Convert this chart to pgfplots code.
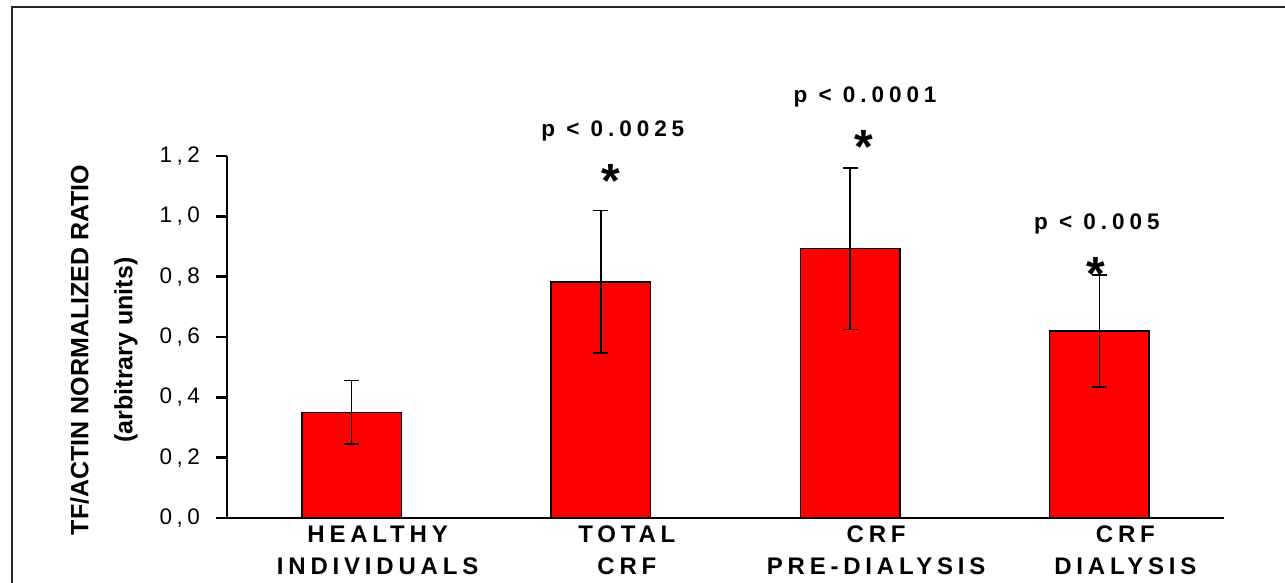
\documentclass[border=0pt]{standalone}
\usepackage{fontspec}
\setmainfont{Liberation Sans}
\newfontfamily\spacedA{Liberation Sans}[LetterSpace=20]
\newfontfamily\spacedP{Liberation Sans}[LetterSpace=22]
\newfontfamily\spacedB{Liberation Sans}[LetterSpace=20]
\usepackage{pgfplots}
\usepackage{pgfplotstable}
\pgfplotsset{compat=1.18}

\pgfplotstableread{
x y err
0 0.350 0.105
1 0.783 0.236
2 0.893 0.268
3 0.620 0.186
}\tfdata

\begin{document}
\begin{tikzpicture}
\useasboundingbox (0,0) rectangle (1285bp,583bp);
\draw[line width=2bp, black!85] (12bp,-20bp) -- (12bp,576bp) -- (1300bp,576bp);
\begin{axis}[
  at={(227bp,65bp)}, anchor=south west,
  scale only axis,
  width=997bp, height=362bp,
  xmin=-0.5, xmax=3.5,
  ymin=0, ymax=1.2,
  axis x line*=bottom,
  axis y line*=left,
  axis line style={line width=2.6bp, -},
  clip=false,
  ytick={0,0.2,0.4,0.6,0.8,1.0,1.2},
  yticklabels={{0,0},{0,2},{0,4},{0,6},{0,8},{1,0},{1,2}},
  yticklabel style={font=\fontsize{22.5bp}{26bp}\selectfont\spacedA, inner sep=0pt, anchor=east, xshift=-16bp},
  tick align=outside,
  major tick length=11bp,
  ytick style={line width=2.6bp, black},
  xtick={0,1,2,3},
  xtick style={draw=none},
  xticklabels={{HEALTHY\\INDIVIDUALS},{TOTAL\\CRF},{CRF\\PRE-DIALYSIS},{CRF\\DIALYSIS}},
  xticklabel style={font=\fontsize{24bp}{32bp}\selectfont\spacedB\bfseries, align=center, inner sep=0pt, anchor=north, yshift=3bp, xshift=26bp},
]
\addplot[ybar, bar width=0.4, fill=red, draw=black, line width=1.5bp,
  error bars/.cd, y dir=both, y explicit,
  error bar style={line width=1.5bp, black},
  error mark options={rotate=90, mark size=7.5bp, line width=1.5bp, black}]
  table[x=x, y=y, y error=err] {\tfdata};

\node[rotate=90, align=center, font=\fontsize{25bp}{44bp}\selectfont\bfseries]
  at ([xshift=-123bp, yshift=-13bp]rel axis cs:0,0.5)
  {TF/ACTIN NORMALIZED RATIO\\(arbitrary units)};

\node[anchor=base, font=\fontsize{22.5bp}{26bp}\selectfont\spacedP\bfseries] at (axis cs:1.048,1.263) {p < 0.0025};
\node[anchor=base, font=\fontsize{22.5bp}{26bp}\selectfont\spacedP\bfseries] at (axis cs:2.06,1.376) {p < 0.0001};
\node[anchor=base, font=\fontsize{22.5bp}{26bp}\selectfont\spacedP\bfseries] at (axis cs:2.99,0.955) {p < 0.005};

\node[anchor=base, inner sep=0pt, font=\fontsize{48bp}{52bp}\selectfont\bfseries, yshift=-27bp] at (axis cs:1.04,1.153) {*};
\node[anchor=base, inner sep=0pt, font=\fontsize{48bp}{52bp}\selectfont\bfseries, yshift=-27bp] at (axis cs:2.056,1.263) {*};
\node[anchor=base, inner sep=0pt, font=\fontsize{48bp}{52bp}\selectfont\bfseries, yshift=-27bp] at (axis cs:2.984,0.845) {*};
\end{axis}
\end{tikzpicture}
\end{document}
